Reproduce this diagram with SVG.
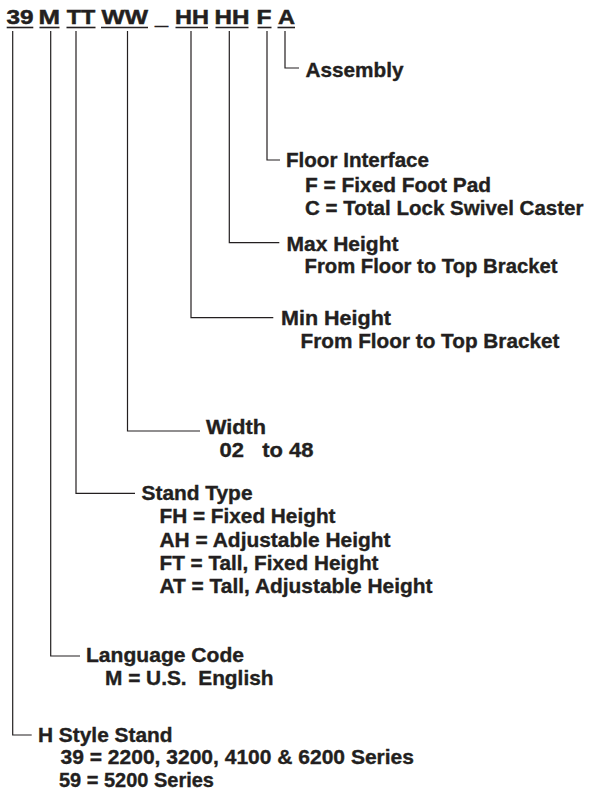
<svg xmlns="http://www.w3.org/2000/svg" width="590" height="797" viewBox="0 0 590 797">
<style>
text{font-family:"Liberation Sans",Arial,Helvetica,sans-serif;font-weight:bold;fill:#231f20;stroke:#231f20;stroke-width:0.35}
.h{font-size:21px;stroke-width:0.5}
.t{font-size:19.8px}
.ul{stroke:#231f20;stroke-width:1.6}
.c{fill:none;stroke:#231f20;stroke-width:1.2}
</style>
<rect width="590" height="797" fill="#ffffff"/>
<g id="header">
<text class="h" x="6.5" y="24.3" textLength="27" lengthAdjust="spacingAndGlyphs">39</text>
<text class="h" x="38.5" y="24.3" textLength="21.5" lengthAdjust="spacingAndGlyphs">M</text>
<text class="h" x="66.8" y="24.3" textLength="28.5" lengthAdjust="spacingAndGlyphs">TT</text>
<text class="h" x="101.5" y="24.3" textLength="46.5" lengthAdjust="spacingAndGlyphs">WW</text>
<text class="h" x="155" y="24.3" textLength="13" lengthAdjust="spacingAndGlyphs">_</text>
<text class="h" x="175" y="24.3" textLength="34" lengthAdjust="spacingAndGlyphs">HH</text>
<text class="h" x="214.5" y="24.3" textLength="35" lengthAdjust="spacingAndGlyphs">HH</text>
<text class="h" x="256.5" y="24.3" textLength="15" lengthAdjust="spacingAndGlyphs">F</text>
<text class="h" x="278" y="24.3" textLength="17" lengthAdjust="spacingAndGlyphs">A</text>
<line class="ul" x1="6.7" y1="27.5" x2="33.3" y2="27.5"/>
<line class="ul" x1="39.5" y1="27.5" x2="59.5" y2="27.5"/>
<line class="ul" x1="66.5" y1="27.5" x2="95.5" y2="27.5"/>
<line class="ul" x1="101" y1="27.5" x2="148" y2="27.5"/>
<line class="ul" x1="175.5" y1="27.5" x2="208" y2="27.5"/>
<line class="ul" x1="215.5" y1="27.5" x2="248.5" y2="27.5"/>
<line class="ul" x1="257.5" y1="27.5" x2="271.5" y2="27.5"/>
<line class="ul" x1="277.5" y1="27.5" x2="295" y2="27.5"/>
</g>
<g id="connectors">
<polyline class="c" points="12.7,31 12.7,735 31.7,735"/>
<polyline class="c" points="50.7,31 50.7,656 80,656"/>
<polyline class="c" points="76,31 76,493.3 135,493.3"/>
<polyline class="c" points="127.5,31 127.5,431 200,431"/>
<polyline class="c" points="191,31 191,317.7 273.3,317.7"/>
<polyline class="c" points="229.3,31 229.3,242.7 279.3,242.7"/>
<polyline class="c" points="267,31 267,160 280,160"/>
<polyline class="c" points="285,31 285,68 299,68"/>
</g>
<g id="assembly">
<text class="t" x="305.5" y="77.3" textLength="98" lengthAdjust="spacingAndGlyphs">Assembly</text>
</g>
<g id="floor-interface">
<text class="t" x="286" y="167.3" textLength="143" lengthAdjust="spacingAndGlyphs">Floor Interface</text>
<text class="t" x="305" y="191.7" textLength="186" lengthAdjust="spacingAndGlyphs">F = Fixed Foot Pad</text>
<text class="t" x="305" y="215" textLength="278.5" lengthAdjust="spacingAndGlyphs">C = Total Lock Swivel Caster</text>
</g>
<g id="max-height">
<text class="t" x="286.5" y="250.7" textLength="112" lengthAdjust="spacingAndGlyphs">Max Height</text>
<text class="t" x="304.5" y="273.3" textLength="253" lengthAdjust="spacingAndGlyphs">From Floor to Top Bracket</text>
</g>
<g id="min-height">
<text class="t" x="281" y="325" textLength="110" lengthAdjust="spacingAndGlyphs">Min Height</text>
<text class="t" x="300.5" y="348.3" textLength="259" lengthAdjust="spacingAndGlyphs">From Floor to Top Bracket</text>
</g>
<g id="width">
<text class="t" x="206" y="434" textLength="60" lengthAdjust="spacingAndGlyphs">Width</text>
<text class="t" x="219.5" y="457.3" textLength="94" lengthAdjust="spacingAndGlyphs" xml:space="preserve">02   to 48</text>
</g>
<g id="stand-type">
<text class="t" x="141.5" y="500" textLength="111" lengthAdjust="spacingAndGlyphs">Stand Type</text>
<text class="t" x="159.5" y="522.7" textLength="176" lengthAdjust="spacingAndGlyphs">FH = Fixed Height</text>
<text class="t" x="159.5" y="546.7" textLength="231" lengthAdjust="spacingAndGlyphs">AH = Adjustable Height</text>
<text class="t" x="159.5" y="570" textLength="219" lengthAdjust="spacingAndGlyphs">FT = Tall, Fixed Height</text>
<text class="t" x="159.5" y="593.3" textLength="273" lengthAdjust="spacingAndGlyphs">AT = Tall, Adjustable Height</text>
</g>
<g id="language-code">
<text class="t" x="86" y="661.7" textLength="158" lengthAdjust="spacingAndGlyphs">Language Code</text>
<text class="t" x="105" y="685" textLength="168.5" lengthAdjust="spacingAndGlyphs" xml:space="preserve">M = U.S.  English</text>
</g>
<g id="h-style-stand">
<text class="t" x="38" y="741.7" textLength="134.5" lengthAdjust="spacingAndGlyphs">H Style Stand</text>
<text class="t" x="60.5" y="764.3" textLength="353.5" lengthAdjust="spacingAndGlyphs">39 = 2200, 3200, 4100 &amp; 6200 Series</text>
<text class="t" x="59" y="786.7" textLength="155" lengthAdjust="spacingAndGlyphs">59 = 5200 Series</text>
</g>
</svg>
